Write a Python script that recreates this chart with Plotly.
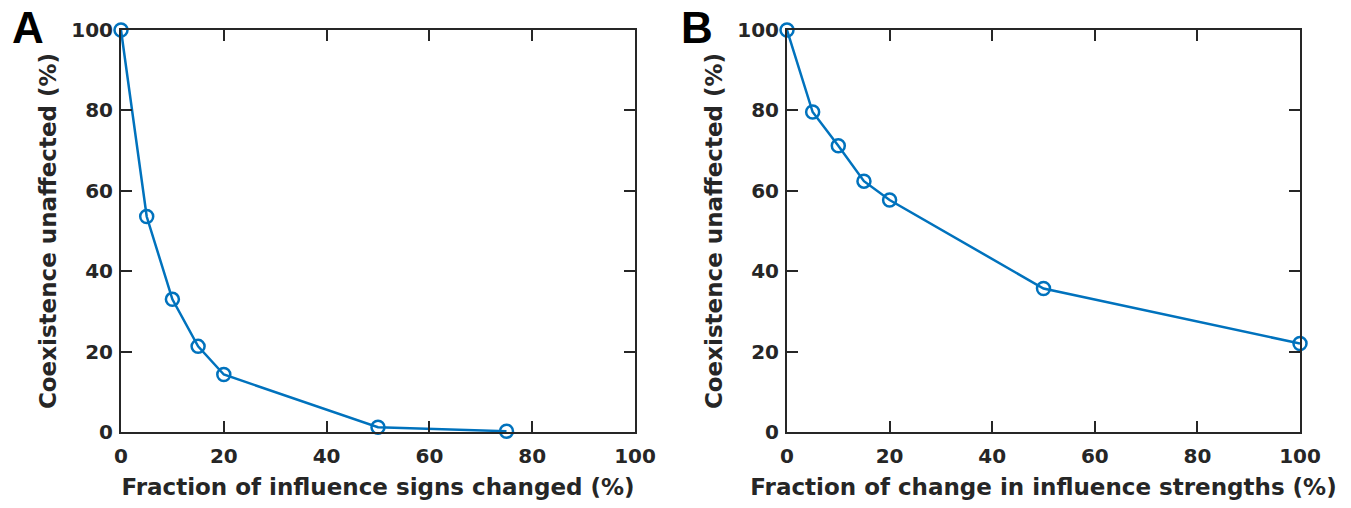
import plotly.graph_objects as go

xa = [0, 5, 10, 15, 20, 50, 75]
ya = [100, 53.6, 33.0, 21.3, 14.3, 1.2, 0.2]
xb = [0, 5, 10, 15, 20, 50, 100]
yb = [100, 79.6, 71.2, 62.4, 57.7, 35.7, 22.0]
ticks = [0, 20, 40, 60, 80, 100]
xtitle_a = "Fraction of influence signs changed (%)"
xtitle_b = "Fraction of change in influence strengths (%)"
ytitle = "Coexistence unaffected (%)"

W, H = 1351, 508
blue = "#0072BD"
axc = "#262626"
font = "DejaVu Sans"

fig = go.Figure()
for i, (x, y) in enumerate([(xa, ya), (xb, yb)]):
    suf = "" if i == 0 else "2"
    fig.add_trace(go.Scatter(x=x, y=y, mode="lines+markers",
                             line=dict(color=blue, width=2.5),
                             marker=dict(symbol="circle-open", size=13,
                                         line=dict(color=blue, width=2.5)),
                             xaxis="x" + suf, yaxis="y" + suf,
                             showlegend=False, cliponaxis=False))

def ax(domain, title, anchor, standoff, tlso):
    return dict(domain=domain, range=[0, 100], tickvals=ticks,
                showgrid=False, zeroline=False, showline=True, mirror="ticks",
                linecolor=axc, linewidth=2, ticks="inside", ticklen=11,
                tickwidth=2, tickcolor=axc, automargin=False,
                ticklabelstandoff=tlso,
                tickfont=dict(family=font, size=20, color=axc, weight="bold"),
                title=dict(text=title, font=dict(family=font, size=23, color=axc, weight="bold"),
                           standoff=standoff),
                anchor=anchor)

ydom = [(H - 432) / H, (H - 30) / H]
fig.update_layout(
    width=W, height=H, margin=dict(l=0, r=0, t=0, b=0, autoexpand=False),
    plot_bgcolor="white", paper_bgcolor="white",
    xaxis=ax([121 / W, 635 / W], "<b>" + xtitle_a + "</b>", "y", 12, 5),
    yaxis=ax(ydom, "<b>" + ytitle + "</b>", "x", 8, 2),
    xaxis2=ax([787 / W, 1300 / W], "<b>" + xtitle_b + "</b>", "y2", 12, 5),
    yaxis2=ax(ydom, "<b>" + ytitle + "</b>", "x2", 8, 2),
)
for lbl, px in [("A", 28), ("B", 697)]:
    fig.add_annotation(text="<b>" + lbl + "</b>", x=px / W, y=1 - 27 / H,
                       xref="paper", yref="paper", showarrow=False,
                       font=dict(family="Liberation Sans", size=44, color="black"),
                       xanchor="center", yanchor="middle")

fig.write_html("out.html")
